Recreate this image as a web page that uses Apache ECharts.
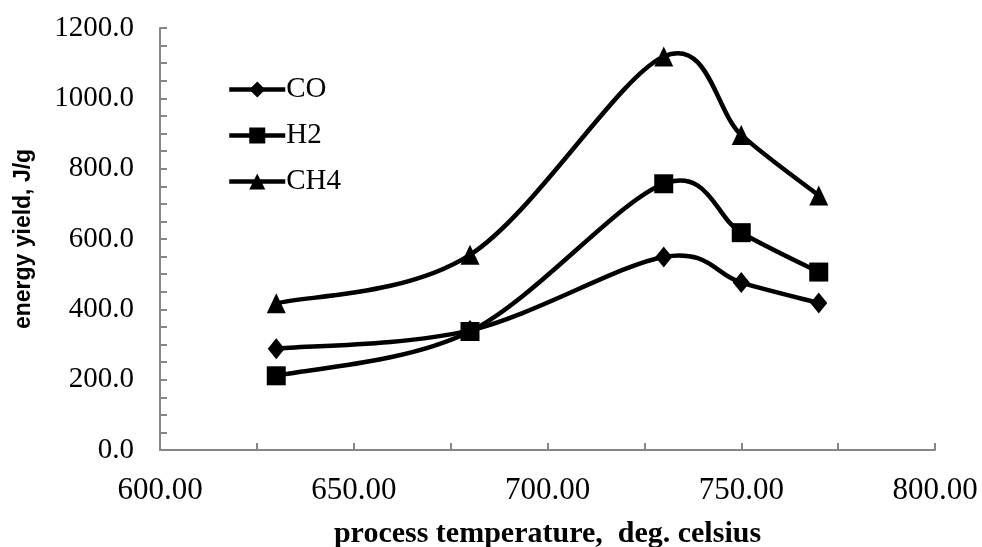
<!DOCTYPE html>
<html>
<head>
<meta charset="utf-8">
<script src="https://cdn.jsdelivr.net/npm/echarts@6/dist/echarts.min.js"></script>
<style>html,body{margin:0;padding:0;background:#fff;}#c{width:982px;height:547px;}</style>
</head>
<body>
<div id="c"></div>
<script>
const temps = [630, 680, 730, 750, 770];
const coValues = [288, 340, 549, 476, 418];
const h2Values = [211, 337, 757, 618, 506];
const ch4Values = [417, 555, 1119, 896, 724];
const seriesNames = ['CO', 'H2', 'CH4'];
const xTitle = 'process temperature,  deg. celsius';
const yTitle = 'energy yield, J/g';

const serif = 'Liberation Serif';
const LW = 4.5;
const chart = echarts.init(document.getElementById('c'), null, {renderer: 'canvas'});
function pts(vals) { return temps.map((t, i) => [t, vals[i]]); }

// Excel-like smoothed curve (Catmull-Rom style), computed in screen space via the chart's own scales
function curveSeries(name, vals) {
  return {
    type: 'custom', name: name, z: 2, silent: true,
    data: pts(vals),
    encode: {x: 0, y: 1},
    renderItem: function (params, api) {
      const i = params.dataIndex;
      const n = temps.length;
      if (i >= n - 1) return null;
      const P = j => api.coord([temps[Math.max(0, Math.min(n - 1, j))], vals[Math.max(0, Math.min(n - 1, j))]]);
      const p0 = P(i - 1), p1 = P(i), p2 = P(i + 1), p3 = P(i + 2);
      const t = 1 / 6;
      return {
        type: 'bezierCurve',
        shape: {
          x1: p1[0], y1: p1[1], x2: p2[0], y2: p2[1],
          cpx1: p1[0] + (p2[0] - p0[0]) * t, cpy1: p1[1] + (p2[1] - p0[1]) * t,
          cpx2: p2[0] - (p3[0] - p1[0]) * t, cpy2: p2[1] - (p3[1] - p1[1]) * t
        },
        style: {stroke: '#000', lineWidth: LW, fill: null, lineCap: 'round'}
      };
    }
  };
}
const markerCommon = {
  type: 'line', color: '#000', z: 3,
  lineStyle: {color: '#000', width: 0, opacity: 0},
  itemStyle: {color: '#000'},
  emphasis: {disabled: true}
};
chart.setOption({
  animation: false,
  grid: {left: 160, right: 47, top: 28, bottom: 97, containLabel: false, outerBoundsMode: 'none'},
  legend: {
    orient: 'vertical', left: 222, top: 70,
    itemWidth: 56, itemHeight: 20, itemGap: 17,
    lineStyle: {color: '#000', width: LW, opacity: 1},
    textStyle: {fontFamily: serif, fontSize: 29, color: '#000', padding: [0, 0, 0, -4]},
    data: seriesNames
  },
  xAxis: {
    type: 'value', min: 600, max: 800, interval: 50,
    name: xTitle, nameLocation: 'middle', nameGap: 69,
    nameTextStyle: {fontFamily: serif, fontWeight: 'bold', fontSize: 30, color: '#000'},
    axisLine: {lineStyle: {color: '#868686', width: 2}},
    axisTick: {show: true, inside: true, length: 7, lineStyle: {color: '#868686', width: 2}},
    minorTick: {show: true, splitNumber: 2, length: 7, lineStyle: {color: '#868686', width: 2}},
    splitLine: {show: false},
    axisLabel: {fontFamily: serif, fontSize: 31, color: '#000', margin: 25,
      formatter: v => v.toFixed(2)}
  },
  yAxis: {
    type: 'value', min: 0, max: 1200, interval: 200,
    name: yTitle, nameLocation: 'middle', nameGap: 125, nameRotate: 90,
    nameTextStyle: {fontFamily: 'Liberation Sans', fontWeight: 'bold', fontSize: 23, color: '#000'},
    axisLine: {show: true, lineStyle: {color: '#868686', width: 2}},
    axisTick: {show: true, inside: true, length: 7, lineStyle: {color: '#868686', width: 2}},
    minorTick: {show: true, splitNumber: 4, length: 7, lineStyle: {color: '#868686', width: 2}},
    splitLine: {show: false},
    axisLabel: {fontFamily: serif, fontSize: 29, color: '#000', margin: 26,
      formatter: v => v.toFixed(1)}
  },
  series: [
    curveSeries('CO-curve', coValues),
    curveSeries('H2-curve', h2Values),
    curveSeries('CH4-curve', ch4Values),
    Object.assign({}, markerCommon, {name: 'CO', symbol: 'diamond', symbolSize: [17, 21], data: pts(coValues)}),
    Object.assign({}, markerCommon, {name: 'H2', symbol: 'rect', symbolSize: [19, 19], data: pts(h2Values)}),
    Object.assign({}, markerCommon, {name: 'CH4', symbol: 'triangle', symbolSize: [19, 20], data: pts(ch4Values)})
  ]
});
</script>
</body>
</html>
